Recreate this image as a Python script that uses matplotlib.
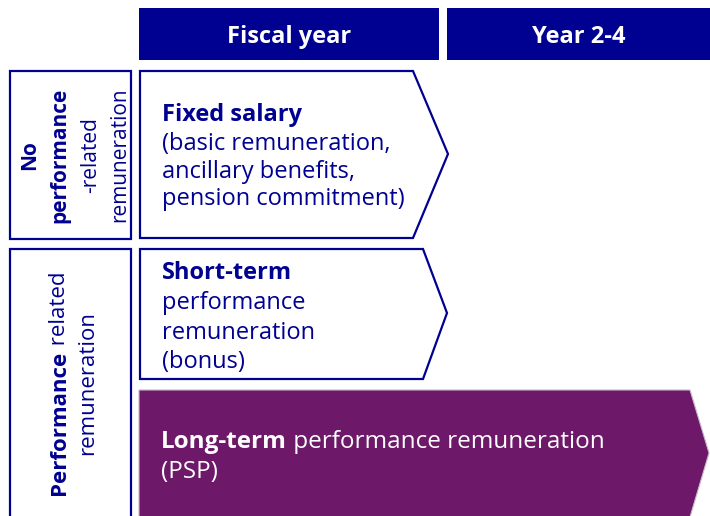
import matplotlib
matplotlib.use("Agg")
import matplotlib.pyplot as plt
from matplotlib.patches import Polygon, Rectangle

plt.rcParams['font.family'] = ['Open Sans', 'DejaVu Sans']

NAVY = '#000091'
PURPLE = '#6D1868'

# texts of the diagram
headers = ["Fiscal year", "Year 2-4"]
row_labels = [
    [[("No", 'bold')], [("performance", 'bold')], [("-related", 'normal')], [("remuneration", 'normal')]],
    [[("Performance", 'bold'), (" related", 'normal')], [("remuneration", 'normal')]],
]
fixed_lines = [[("Fixed salary", 'bold')], [("(basic remuneration,", 'normal')],
               [("ancillary benefits,", 'normal')], [("pension commitment)", 'normal')]]
short_lines = [[("Short-term", 'bold')], [("performance", 'normal')],
               [("remuneration", 'normal')], [("(bonus)", 'normal')]]
long_lines = [[("Long-term", 'bold'), (" performance remuneration", 'normal')],
              [("(PSP)", 'normal')]]

fig = plt.figure(figsize=(7.1, 5.16), dpi=100)
ax = fig.add_axes([0, 0, 1, 1])
ax.set_xlim(0, 710)
ax.set_ylim(516, 0)
ax.axis('off')
renderer = fig.canvas.get_renderer()


def text_width(s, size, weight):
    t = ax.text(0, 0, s, fontsize=size, fontweight=weight)
    w = t.get_window_extent(renderer).width
    t.remove()
    return w


def draw_runs(x, y, runs, size, color, vertical=False, center=False):
    widths = [text_width(s, size, w) for s, w in runs]
    total = sum(widths)
    pos = x if not vertical else y
    if center:
        pos = pos - total / 2 if not vertical else pos + total / 2
    for (s, w), width in zip(runs, widths):
        if vertical:
            ax.text(x, pos, s, fontsize=size, fontweight=w, color=color,
                    rotation=90, rotation_mode='anchor', ha='left', va='baseline')
            pos -= width
        else:
            ax.text(pos, y, s, fontsize=size, fontweight=w, color=color,
                    ha='left', va='baseline')
            pos += width


# header bars
ax.add_patch(Rectangle((139, 8), 300, 52, facecolor=NAVY, edgecolor='none'))
ax.add_patch(Rectangle((447, 8), 263, 52, facecolor=NAVY, edgecolor='none'))
draw_runs(289, 43, [(headers[0], 'bold')], 17, 'white', center=True)
draw_runs(579, 43, [(headers[1], 'bold')], 17, 'white', center=True)

# left label boxes
ax.add_patch(Rectangle((10, 71), 121, 168, facecolor='white', edgecolor=NAVY, lw=1.6))
ax.add_patch(Rectangle((10, 249), 121, 280, facecolor='white', edgecolor=NAVY, lw=1.6))
for bx, line in zip([35, 65, 96, 125], row_labels[0]):
    draw_runs(bx, 155, line, 15, NAVY, vertical=True, center=True)
for bx, line in zip([65, 93], row_labels[1]):
    draw_runs(bx, 383, line, 16, NAVY, vertical=True, center=True)

# chevrons
ax.add_patch(Polygon([(140, 71), (413, 71), (448, 154), (413, 238), (140, 238)],
                     closed=True, facecolor='white', edgecolor=NAVY, lw=1.6, joinstyle='miter'))
ax.add_patch(Polygon([(140, 249), (423, 249), (447, 313), (423, 379), (140, 379)],
                     closed=True, facecolor='white', edgecolor=NAVY, lw=1.6, joinstyle='miter'))
ax.add_patch(Polygon([(139, 390), (690, 390), (709, 453), (690, 517), (139, 517)],
                     closed=True, facecolor=PURPLE, edgecolor='#C8B8CC', lw=0.8, joinstyle='miter'))

for by, line in zip([121, 150, 178, 205], fixed_lines):
    draw_runs(162, by, line, 17, NAVY)
for by, line in zip([279, 309, 339, 368], short_lines):
    draw_runs(162, by, line, 17, NAVY)
for by, line in zip([448, 478], long_lines):
    draw_runs(161, by, line, 17.5, 'white')

fig.savefig("out.png", dpi=100)
